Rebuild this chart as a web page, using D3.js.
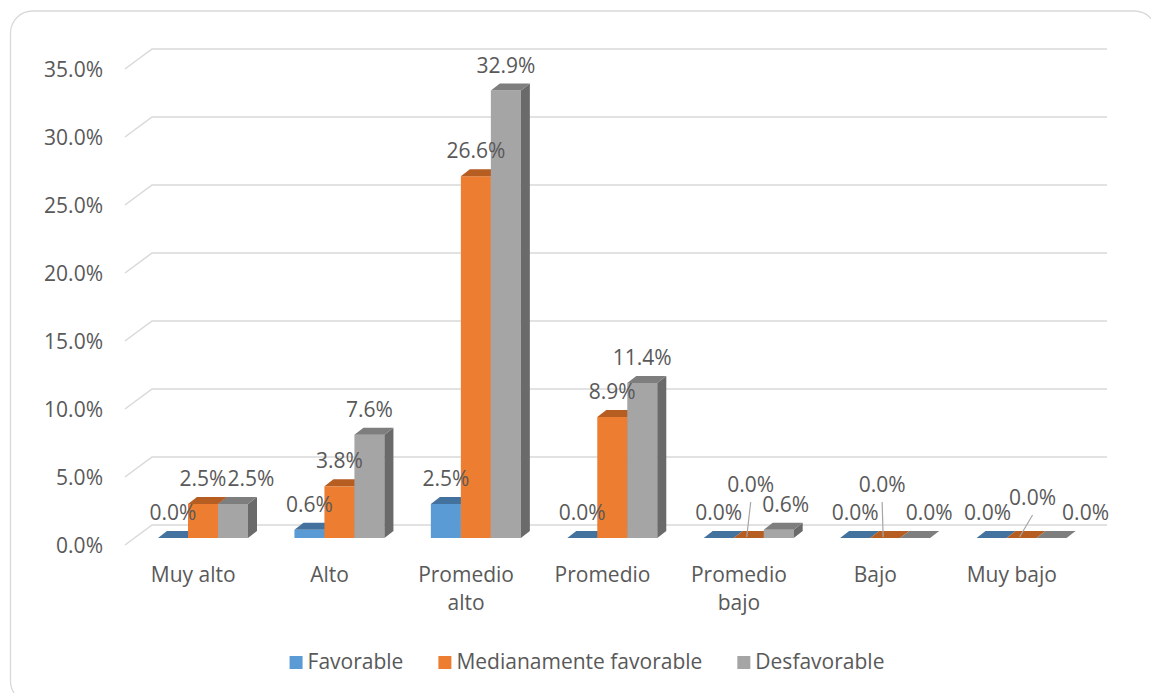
<!DOCTYPE html>
<html>
<head>
<meta charset="utf-8">
<script src="https://cdn.jsdelivr.net/npm/d3@7"></script>
<style>
  html, body { margin: 0; padding: 0; background: #ffffff; }
  svg { display: block; }
  text { font-family: "Open Sans", "Noto Sans", sans-serif; fill: #595959; }
</style>
</head>
<body>
<svg id="chart" width="1151" height="693"></svg>
<script>
// ---- data ----
const categories = ["Muy alto", "Alto", "Promedio alto", "Promedio", "Promedio bajo", "Bajo", "Muy bajo"];
const seriesNames = ["Favorable", "Medianamente favorable", "Desfavorable"];
const favorable    = [0.0, 0.6, 2.5, 0.0, 0.0, 0.0, 0.0];
const medianamente = [2.5, 3.8, 26.6, 8.9, 0.0, 0.0, 0.0];
const desfavorable = [2.5, 7.6, 32.9, 11.4, 0.6, 0.0, 0.0];
const yTicks = [0, 5, 10, 15, 20, 25, 30, 35];

// ---- layout / style ----
const FS = "21px";
const colors = {
  front: ["#5B9BD5", "#ED7D31", "#A5A5A5"],
  top:   ["#44729E", "#B65D22", "#7E7E7E"],
  side:  ["#3D6890", "#A5531D", "#6A6A6A"]
};
const depth = { dx: 9, dy: -7 };       // bar depth
const wall = { dx: 27, dy: -20 };      // gridline slant
const barFloorShift = 7;               // bars sit slightly behind the front edge
// label nudges [series-category] -> [dx, dy, leader]
const nudges = {
  "2-0": [18, 0], "1-4": [2, -28, true], "2-4": [7, 0],
  "1-5": [-3, -28, true], "2-5": [14, 0],
  "0-6": [-4, 0], "1-6": [11, -15, true], "2-6": [34, 0]
};

const svg = d3.select("#chart");
const values = [favorable, medianamente, desfavorable];

// border
svg.append("rect").attr("x", 10.5).attr("y", 11).attr("width", 1146).attr("height", 692)
  .attr("rx", 22).attr("fill", "#fff").attr("stroke", "#D9D9D9").attr("stroke-width", 1.3);

const x0 = d3.scaleBand().domain(categories).range([125, 1080]);
const x1 = d3.scaleBand().domain(seriesNames).range([33, 123]);
const y = d3.scaleLinear().domain([0, 35]).range([545, 69]);

// gridlines
const grid = svg.append("g");
yTicks.forEach(t => {
  const yy = y(t);
  grid.append("path")
    .attr("d", `M${x0.range()[0]},${yy} L${x0.range()[0] + wall.dx},${yy + wall.dy} L${x0.range()[1] + wall.dx},${yy + wall.dy}`)
    .attr("fill", "none").attr("stroke", "#D9D9D9").attr("stroke-width", 1.5);
});

// y axis labels
const yAxis = d3.axisLeft(y).tickValues(yTicks).tickFormat(d => d.toFixed(1) + "%").tickSize(0).tickPadding(0);
const ya = svg.append("g").attr("transform", "translate(103,0)").call(yAxis);
ya.select(".domain").remove();
ya.selectAll("text").style("font-size", FS).style("font-family", "'Open Sans', sans-serif").attr("fill", "#595959").attr("dy", "0.35em");

// bars
const bars = svg.append("g");
categories.forEach((c, ci) => {
  values.forEach((arr, si) => {
    const v = arr[ci];
    const xl = x0(c) + x1(seriesNames[si]);
    const w = x1.bandwidth();
    const yb = y(0) - barFloorShift;
    const yt = y(v) - barFloorShift;
    const h = yb - yt;
    if (h > 0.5) {
      bars.append("rect").attr("x", xl).attr("y", yt).attr("width", w).attr("height", h)
        .attr("fill", colors.front[si]);
      bars.append("path")
        .attr("d", `M${xl + w},${yt} L${xl + w + depth.dx},${yt + depth.dy} L${xl + w + depth.dx},${yb + depth.dy} L${xl + w},${yb} Z`)
        .attr("fill", colors.side[si]);
    }
    bars.append("path")
      .attr("d", `M${xl},${yt} L${xl + depth.dx},${yt + depth.dy} L${xl + w + depth.dx},${yt + depth.dy} L${xl + w},${yt} Z`)
      .attr("fill", colors.top[si]);
  });
});

// value labels
const labels = svg.append("g");
categories.forEach((c, ci) => {
  values.forEach((arr, si) => {
    const v = arr[ci];
    const cx = x0(c) + x1(seriesNames[si]) + x1.bandwidth() / 2;
    const yt = y(v) - barFloorShift;
    const n = nudges[si + "-" + ci] || [0, 0];
    const lx = cx + n[0], ly = yt - 18 + n[1];
    if (n[2]) {
      labels.append("line").attr("x1", lx).attr("y1", ly + 10).attr("x2", cx - 2).attr("y2", yt - 1)
        .attr("stroke", "#A6A6A6").attr("stroke-width", 1.2);
    }
    labels.append("text").attr("x", lx).attr("y", ly).attr("text-anchor", "middle")
      .style("font-size", FS).text(v.toFixed(1) + "%");
  });
});

// category labels
const catG = svg.append("g");
categories.forEach(c => {
  const words = c.split(" ");
  const lines = words.length > 1 && c.length > 9 ? [words[0], words.slice(1).join(" ")] : [c];
  const t = catG.append("text").attr("x", x0(c) + x0.bandwidth() / 2).attr("y", 582)
    .attr("text-anchor", "middle").style("font-size", FS);
  lines.forEach((l, i) => {
    t.append("tspan").attr("x", x0(c) + x0.bandwidth() / 2).attr("dy", i === 0 ? 0 : 28).text(l);
  });
});

// legend
const leg = svg.append("g");
let lx = 0;
seriesNames.forEach((s, i) => {
  const g = leg.append("g");
  g.append("rect").attr("x", 0).attr("y", -13).attr("width", 13).attr("height", 13).attr("fill", colors.front[i]);
  const t = g.append("text").attr("x", 18).attr("y", 0).style("font-size", FS).text(s);
  const w = 18 + t.node().getComputedTextLength();
  g.attr("transform", `translate(${lx},0)`);
  lx += w + 35;
});
const totalW = lx - 35;
leg.attr("transform", `translate(${587 - totalW / 2},669)`);
</script>
</body>
</html>
